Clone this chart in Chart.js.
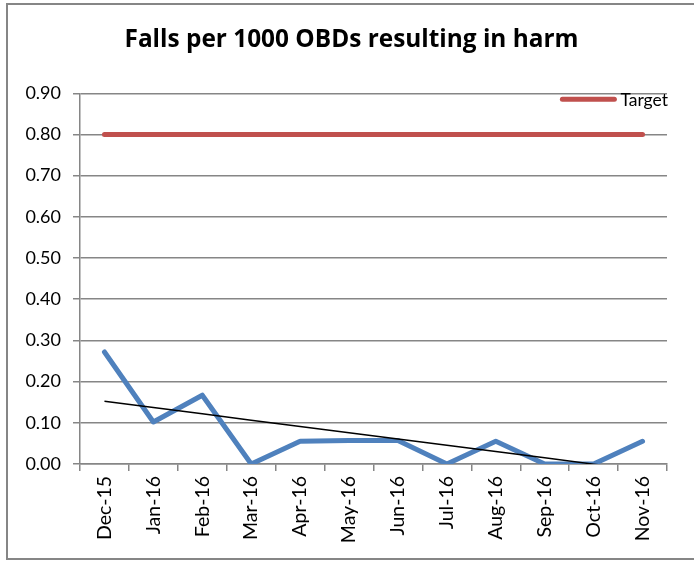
<!DOCTYPE html>
<html>
<head>
<meta charset="utf-8">
<script src="https://cdn.jsdelivr.net/npm/chart.js@4/dist/chart.umd.min.js"></script>
<style>
  html, body { margin: 0; padding: 0; background: #ffffff; }
  #wrap { width: 694px; height: 562px; position: relative; }
</style>
</head>
<body>
<div id="wrap"><canvas id="c" width="694" height="562"></canvas></div>
<script>
const categories = ["Dec-15","Jan-16","Feb-16","Mar-16","Apr-16","May-16","Jun-16","Jul-16","Aug-16","Sep-16","Oct-16","Nov-16"];
const fallsValues = [0.272, 0.102, 0.167, 0.0, 0.055, 0.057, 0.057, 0.0, 0.055, 0.0, 0.0, 0.055];
const targetValues = [0.80, 0.80, 0.80, 0.80, 0.80, 0.80, 0.80, 0.80, 0.80, 0.80, 0.80, 0.80];
const yTickValues = [0, 0.1, 0.2, 0.3, 0.4, 0.5, 0.6, 0.7, 0.8, 0.9];
const chartTitle = "Falls per 1000 OBDs resulting in harm";
const legendLabel = "Target";

// Linear (least-squares) trendline of the falls series, as in the original spreadsheet chart
function linearTrend(values) {
  const n = values.length;
  let sx = 0, sy = 0, sxx = 0, sxy = 0;
  values.forEach((v, i) => { sx += i; sy += v; sxx += i * i; sxy += i * v; });
  const slope = (n * sxy - sx * sy) / (n * sxx - sx * sx);
  const intercept = (sy - slope * sx) / n;
  return values.map((_, i) => intercept + slope * i);
}
const trendValues = linearTrend(fallsValues);

const FONT = "Lato, 'Open Sans', sans-serif";
const GRID = "#868686";

const framePlugin = {
  id: 'frame',
  beforeDraw(chart) {
    const ctx = chart.ctx;
    ctx.save();
    ctx.fillStyle = '#ffffff';
    ctx.fillRect(0, 0, chart.width, chart.height);
    ctx.strokeStyle = GRID;
    ctx.lineWidth = 2;
    ctx.strokeRect(7, 4, 700, 555);
    ctx.restore();
  }
};

// Center the title on the whole chart frame rather than on the padded area
const titleShift = {
  id: 'titleShift',
  afterLayout(chart) {
    if (chart.titleBlock) { chart.titleBlock.left += 26; }
  }
};

// Legend drawn inside the plot area, top right (Excel style), only for the Target series
const insideLegend = {
  id: 'insideLegend',
  afterDatasetsDraw(chart) {
    const ds = chart.data.datasets.find(d => d.label === legendLabel);
    if (!ds) return;
    const ctx = chart.ctx;
    const area = chart.chartArea;
    ctx.save();
    ctx.font = "17.5px " + FONT;
    const tw = ctx.measureText(ds.label).width;
    const textX = area.right + 1 - tw;
    const y = area.top + 6;
    const lineEnd = textX - 4;
    const lineStart = lineEnd - 56;
    ctx.strokeStyle = ds.borderColor;
    ctx.lineWidth = ds.borderWidth;
    ctx.lineCap = 'round';
    ctx.beginPath();
    ctx.moveTo(lineStart + 2, y);
    ctx.lineTo(lineEnd - 2, y);
    ctx.stroke();
    ctx.fillStyle = '#000000';
    ctx.textBaseline = 'middle';
    ctx.textAlign = 'left';
    ctx.fillText(ds.label, textX, y + 1);
    ctx.restore();
  }
};

new Chart(document.getElementById('c'), {
  type: 'line',
  data: {
    labels: categories,
    datasets: [
      {
        label: 'Trend',
        data: trendValues,
        borderColor: '#000000',
        borderWidth: 1.5,
        pointRadius: 0,
        tension: 0,
        order: 0
      },
      {
        label: 'Falls',
        data: fallsValues,
        borderColor: '#4F81BD',
        borderWidth: 5,
        borderJoinStyle: 'round',
        borderCapStyle: 'round',
        pointRadius: 0,
        tension: 0,
        order: 1
      },
      {
        label: legendLabel,
        data: targetValues,
        borderColor: '#C0504D',
        backgroundColor: '#C0504D',
        borderWidth: 5,
        borderCapStyle: 'round',
        pointRadius: 0,
        tension: 0,
        order: 2
      }
    ]
  },
  options: {
    responsive: false,
    animation: false,
    devicePixelRatio: 1,
    layout: { padding: { left: 10, right: 27, top: 0, bottom: 0 } },
    plugins: {
      title: {
        display: true,
        text: chartTitle,
        color: '#000000',
        font: { family: "'Open Sans', Lato, sans-serif", size: 24.4, weight: 'bold' },
        padding: { top: 25, bottom: 39 }
      },
      legend: { display: false },
      tooltip: { enabled: false }
    },
    scales: {
      x: {
        offset: true,
        grid: {
          offset: true,
          drawOnChartArea: false,
          drawTicks: true,
          tickLength: 7,
          color: GRID,
          lineWidth: 1.5
        },
        border: { color: GRID, width: 1.5 },
        ticks: {
          autoSkip: false,
          minRotation: 90,
          maxRotation: 90,
          padding: 5,
          color: '#000000',
          font: { family: FONT, size: 19.5 }
        },
        afterFit: (scale) => { scale.height = 98; }
      },
      y: {
        min: 0,
        max: 0.9,
        afterBuildTicks: (scale) => { scale.ticks = yTickValues.map(v => ({ value: v })); },
        grid: {
          drawTicks: true,
          tickLength: 7,
          color: GRID,
          lineWidth: 1.5
        },
        border: { color: GRID, width: 1.5 },
        ticks: {
          padding: 12,
          color: '#000000',
          font: { family: FONT, size: 18 },
          callback: (v) => Number(v).toFixed(2)
        },
        afterFit: (scale) => { scale.width = 70; }
      }
    }
  },
  plugins: [framePlugin, titleShift, insideLegend]
});
</script>
</body>
</html>
